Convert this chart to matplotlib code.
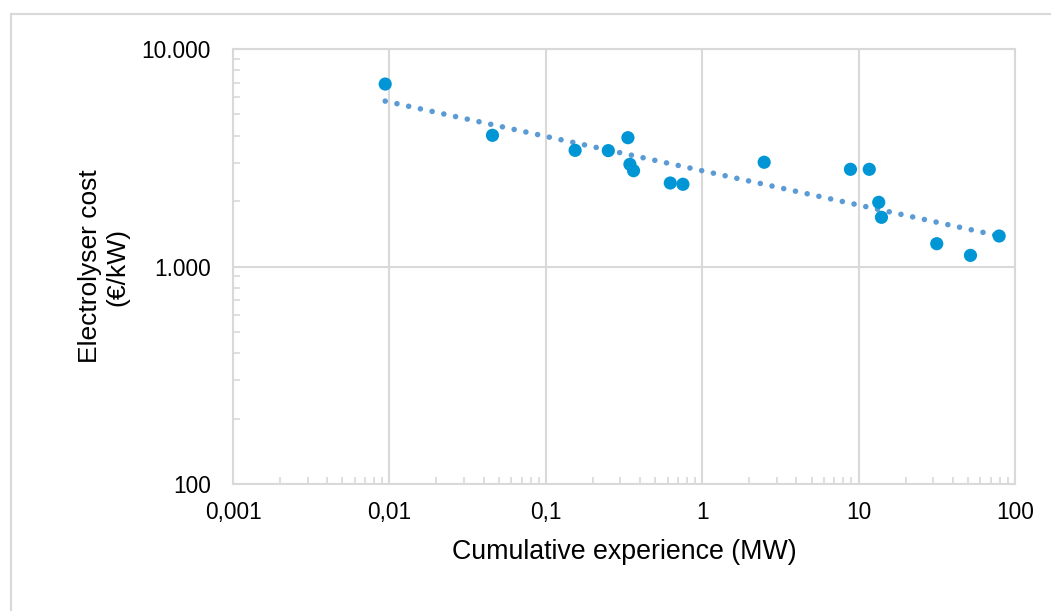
import numpy as np
import matplotlib
matplotlib.use("Agg")
import matplotlib.pyplot as plt
from matplotlib.lines import Line2D
from matplotlib.ticker import FixedLocator, LogLocator, NullFormatter

# === data ===
experience_mw = [0.0094, 0.0456, 0.154, 0.251, 0.335, 0.345, 0.364, 0.625, 0.753,
                 2.49, 8.87, 11.7, 13.45, 14.0, 31.6, 51.9, 79.2]
cost_eur_kw = [6900, 4010, 3420, 3410, 3910, 2950, 2757, 2420, 2388,
               3015, 2798, 2798, 1973, 1683, 1273, 1125, 1381]

x_ticks = [0.001, 0.01, 0.1, 1, 10, 100]
x_tick_labels = ["0,001", "0,01", "0,1", "1", "10", "100"]
y_ticks = [100, 1000, 10000]
y_tick_labels = ["100", "1.000", "10.000"]

GRID = "#D9D9D9"
DOT = "#0096D6"
TREND = "#5B9BD5"
FONT = "Liberation Sans"

plt.rcParams["font.family"] = [FONT, "DejaVu Sans"]

fig = plt.figure(figsize=(10.51, 6.11), dpi=100)
ax = fig.add_axes([233 / 1051, 1 - 484 / 611, (1015 - 233) / 1051, (484 - 49) / 611])

ax.set_xscale("log")
ax.set_yscale("log")
ax.set_xlim(0.001, 100)
ax.set_ylim(100, 10000)

# power trendline (least squares on log-log, like Excel)
lx = np.log10(experience_mw)
ly = np.log10(cost_eur_kw)
b, a = np.polyfit(lx, ly, 1)
xt = np.logspace(lx.min(), lx.max(), 200)
ax.plot(xt, 10 ** (a + b * np.log10(xt)), color=TREND, lw=4,
        linestyle=(0, (0.01, 2.15)), dash_capstyle="round", zorder=2)

ax.scatter(experience_mw, cost_eur_kw, s=90, color=DOT, edgecolors="none", zorder=3)

# ticks / grid
ax.xaxis.set_major_locator(FixedLocator(x_ticks))
ax.set_xticklabels(x_tick_labels)
ax.yaxis.set_major_locator(FixedLocator(y_ticks))
ax.set_yticklabels(y_tick_labels)
for axis in (ax.xaxis, ax.yaxis):
    axis.set_minor_locator(LogLocator(base=10, subs=np.arange(2, 10)))
    axis.set_minor_formatter(NullFormatter())
ax.tick_params(which="major", length=0, labelsize=16.3, colors="black")
ax.tick_params(axis="x", which="major", pad=12)
ax.tick_params(axis="y", which="major", pad=16)
ax.tick_params(which="minor", direction="in", length=5, width=1.2, color=GRID)
ax.grid(True, which="major", color=GRID, lw=1.5)
ax.set_axisbelow(True)
for s in ax.spines.values():
    s.set_color(GRID)
    s.set_linewidth(1.5)

ax.set_xlabel("Cumulative experience (MW)", fontsize=19.3)
ax.xaxis.set_label_coords(0.5, -0.127)
ax.set_ylabel("Electrolyser cost\n(€/kW)", fontsize=19)
ax.yaxis.set_label_coords(-0.132, 0.5)

# chart-area border (cropped on the right and bottom)
fig.add_artist(Line2D([11 / 1051, 1], [1 - 14 / 611] * 2, color=GRID, lw=1.5))
fig.add_artist(Line2D([11 / 1051] * 2, [0, 1 - 14 / 611], color=GRID, lw=1.5))

fig.savefig("out.png", dpi=100)
